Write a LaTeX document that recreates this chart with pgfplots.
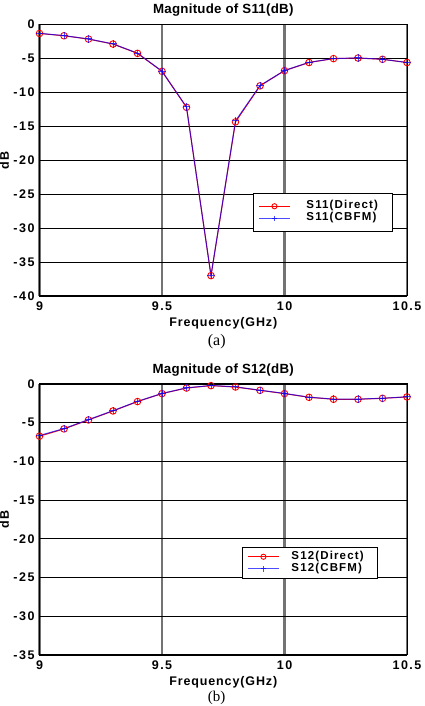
\documentclass[border=0pt]{standalone}
\usepackage{fontspec}
\setmainfont{Liberation Sans}
\newfontfamily\tickfont[LetterSpace=12]{Liberation Sans}
\newfontfamily\labfont[LetterSpace=7]{Liberation Sans}
\newfontfamily\titfont[LetterSpace=2]{Liberation Sans}
\newfontfamily\legfont[LetterSpace=10]{Liberation Sans}
\newfontfamily\capfont{Liberation Serif}
\usepackage{pgfplots}
\pgfplotsset{compat=1.18}

\pgfplotstableread{
f direct cbfm
9.0 -1.32 -1.30
9.1 -1.66 -1.64
9.2 -2.15 -2.13
9.3 -2.88 -2.86
9.4 -4.25 -4.22
9.5 -6.90 -6.88
9.6 -12.2 -12.15
9.7 -37.0 -37.0
9.8 -14.35 -14.2
9.9 -9.04 -9.00
10.0 -6.80 -6.78
10.1 -5.60 -5.58
10.2 -5.03 -5.02
10.3 -4.94 -4.93
10.4 -5.13 -5.12
10.5 -5.60 -5.60
}\sOneOne

\pgfplotstableread{
f direct cbfm
9.0 -6.74 -6.65
9.1 -5.80 -5.76
9.2 -4.64 -4.60
9.3 -3.48 -3.45
9.4 -2.27 -2.24
9.5 -1.24 -1.22
9.6 -0.52 -0.50
9.7 -0.21 -0.19
9.8 -0.39 -0.37
9.9 -0.82 -0.80
10.0 -1.24 -1.22
10.1 -1.72 -1.70
10.2 -1.97 -1.95
10.3 -1.97 -1.95
10.4 -1.85 -1.84
10.5 -1.67 -1.66
}\sOneTwo

\pgfplotsset{
  myaxis/.style={
    scale only axis, width=367.5pt,
    xmin=9, xmax=10.5, xtick={9,9.5,10,10.5},
    xticklabels={9,9.5,10,10.5},
    /pgf/number format/assume math mode=true,
    grid=major,
    every major x grid/.style={draw=black!55, line width=2.2pt},
    every major y grid/.style={draw=black, line width=0.8pt},
    axis line style={black, line width=1pt},
    tick style={draw=none},
    ticklabel style={font=\tickfont\fontsize{12.5}{14}\selectfont\bfseries},
    xticklabel style={anchor=base, yshift=-15pt, inner sep=0pt},
    yticklabel style={anchor=east, inner sep=0pt, xshift=-4.8pt},
    xlabel={Frequency(GHz)}, ylabel={dB},
    xlabel style={font=\labfont\fontsize{12.5}{14}\selectfont\bfseries, at={(axis description cs:0.5,0)}, anchor=base, yshift=-30.7pt},
    ylabel style={font=\labfont\fontsize{12.5}{14}\selectfont\bfseries, at={(axis description cs:-0.0952,0.5)}, rotate=0, anchor=center},
    title style={font=\titfont\fontsize{13.3}{15}\selectfont\bfseries, at={(axis description cs:0.5,1)}, anchor=base},
    legend cell align=left,
    legend image code/.code={
      \path (0pt,0pt);
      \draw[mark repeat=2, mark phase=2, mark size=2.6pt] plot coordinates {(5pt,0pt) (20.5pt,0pt) (36pt,0pt)};
    },
    legend style={draw=black, line width=0.9pt, fill=white, inner xsep=0pt,
      column sep=0pt, anchor=north west,
      font=\legfont\fontsize{11.5}{13}\selectfont\bfseries,
      nodes={inner sep=0pt, text height=8.6pt, text depth=3.6pt}},
  },
  direct/.style={red, line width=1pt, mark=o, mark size=3.3pt, mark options={solid, line width=0.9pt}},
  cbfm/.style={blue, draw opacity=0.7, line width=1pt, mark=+, mark size=3.6pt, mark options={solid, line width=1pt}},
}

\begin{document}
\begin{tikzpicture}[x=1pt,y=1pt]
\path[use as bounding box] (0,0) rectangle (424,706);

\begin{axis}[myaxis, at={(39.5pt,410pt)}, anchor=south west, height=271.5pt,
  ymin=-40, ymax=0, ytick={-40,-35,...,0},
  title={Magnitude of S11(dB)}, title style={yshift=4.5pt},
  legend style={at={(0.581,0.379)}, inner ysep=6.6pt}]
\addplot[direct] table[x=f, y=direct] {\sOneOne};
\addlegendentry{\hspace*{16pt}S11(Direct)\hspace*{14pt}\mbox{}}
\addplot[cbfm] table[x=f, y=cbfm] {\sOneOne};
\addlegendentry{\hspace*{16pt}S11(CBFM)\hspace*{14pt}\mbox{}}
\end{axis}

\node[font=\capfont\fontsize{16}{18}\selectfont] at (216.7,364) {(a)};

\begin{axis}[myaxis, at={(39.5pt,51pt)}, anchor=south west, height=271pt,
  ymin=-35, ymax=0, ytick={-35,-30,...,0},
  title={Magnitude of S12(dB)}, title style={yshift=4pt},
  legend style={at={(0.551,0.3985)}, inner ysep=3.2pt}]
\addplot[direct] table[x=f, y=direct] {\sOneTwo};
\addlegendentry{\hspace*{12pt}S12(Direct)\hspace*{14pt}\mbox{}}
\addplot[cbfm] table[x=f, y=cbfm] {\sOneTwo};
\addlegendentry{\hspace*{12pt}S12(CBFM)\hspace*{14pt}\mbox{}}
\end{axis}

\node[font=\capfont\fontsize{15}{17}\selectfont] at (216.7,8) {(b)};
\end{tikzpicture}
\end{document}
